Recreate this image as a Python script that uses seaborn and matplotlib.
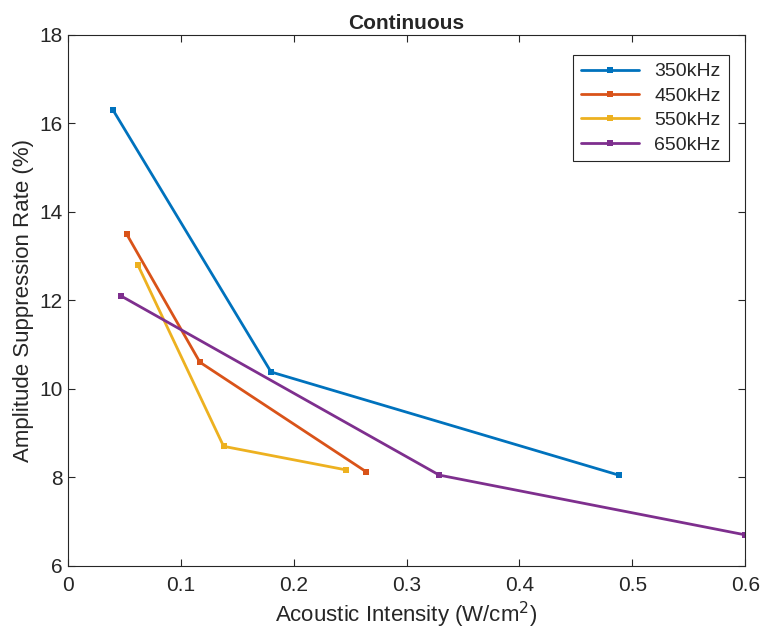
import pandas as pd
import matplotlib
matplotlib.use("Agg")
import matplotlib.pyplot as plt
import seaborn as sns

# データ
freqs = ['350kHz', '450kHz', '550kHz', '650kHz']
x_350 = [0.040, 0.180, 0.488]
y_350 = [16.30, 10.38, 8.05]
x_450 = [0.052, 0.117, 0.264]
y_450 = [13.50, 10.60, 8.13]
x_550 = [0.062, 0.138, 0.246]
y_550 = [12.80, 8.70, 8.17]
x_650 = [0.047, 0.329, 0.600]
y_650 = [12.10, 8.05, 6.70]

colors = ['#0072BD', '#D95319', '#EDB120', '#7E2F8E']

rows = []
for f, xs, ys in zip(freqs, [x_350, x_450, x_550, x_650], [y_350, y_450, y_550, y_650]):
    for a, b in zip(xs, ys):
        rows.append({'freq': f, 'intensity': a, 'rate': b})
df = pd.DataFrame(rows)

sns.set_style('ticks')
plt.rcParams['font.family'] = ['Liberation Sans', 'DejaVu Sans']

fig = plt.figure(figsize=(7.62, 6.43), dpi=100)
ax = fig.add_axes([0.089, 0.12, 0.889, 0.826])

sns.lineplot(data=df, x='intensity', y='rate', hue='freq', hue_order=freqs,
             palette=colors, marker='s', markersize=5, markeredgewidth=0,
             linewidth=2, sort=False, ax=ax)

ax.set_xlim(0, 0.6)
ax.set_ylim(6, 18)
ax.set_xticks([0, 0.1, 0.2, 0.3, 0.4, 0.5, 0.6])
ax.set_xticklabels(['0', '0.1', '0.2', '0.3', '0.4', '0.5', '0.6'])
ax.set_yticks([6, 8, 10, 12, 14, 16, 18])
ax.tick_params(direction='in', length=5, labelsize=15, colors='#262626',
               top=True, right=True, width=0.8)
ax.tick_params(axis='x', pad=7)
for s in ax.spines.values():
    s.set_visible(True)
    s.set_color('#262626')
    s.set_linewidth(0.8)

ax.set_xlabel('Acoustic Intensity (W/cm$^2$)', fontsize=16, color='#262626', labelpad=4)
ax.set_ylabel('Amplitude Suppression Rate (%)', fontsize=16, color='#262626')
ax.set_title('Continuous', fontsize=15, fontweight='bold', pad=4)

leg = ax.legend(loc='upper right', fontsize=14, frameon=True, fancybox=False,
                edgecolor='#262626', framealpha=1, borderpad=0.4,
                handlelength=3, labelspacing=0.35, bbox_to_anchor=(0.99, 0.98))
leg.get_frame().set_linewidth(0.8)

fig.savefig('out.png', dpi=100)
